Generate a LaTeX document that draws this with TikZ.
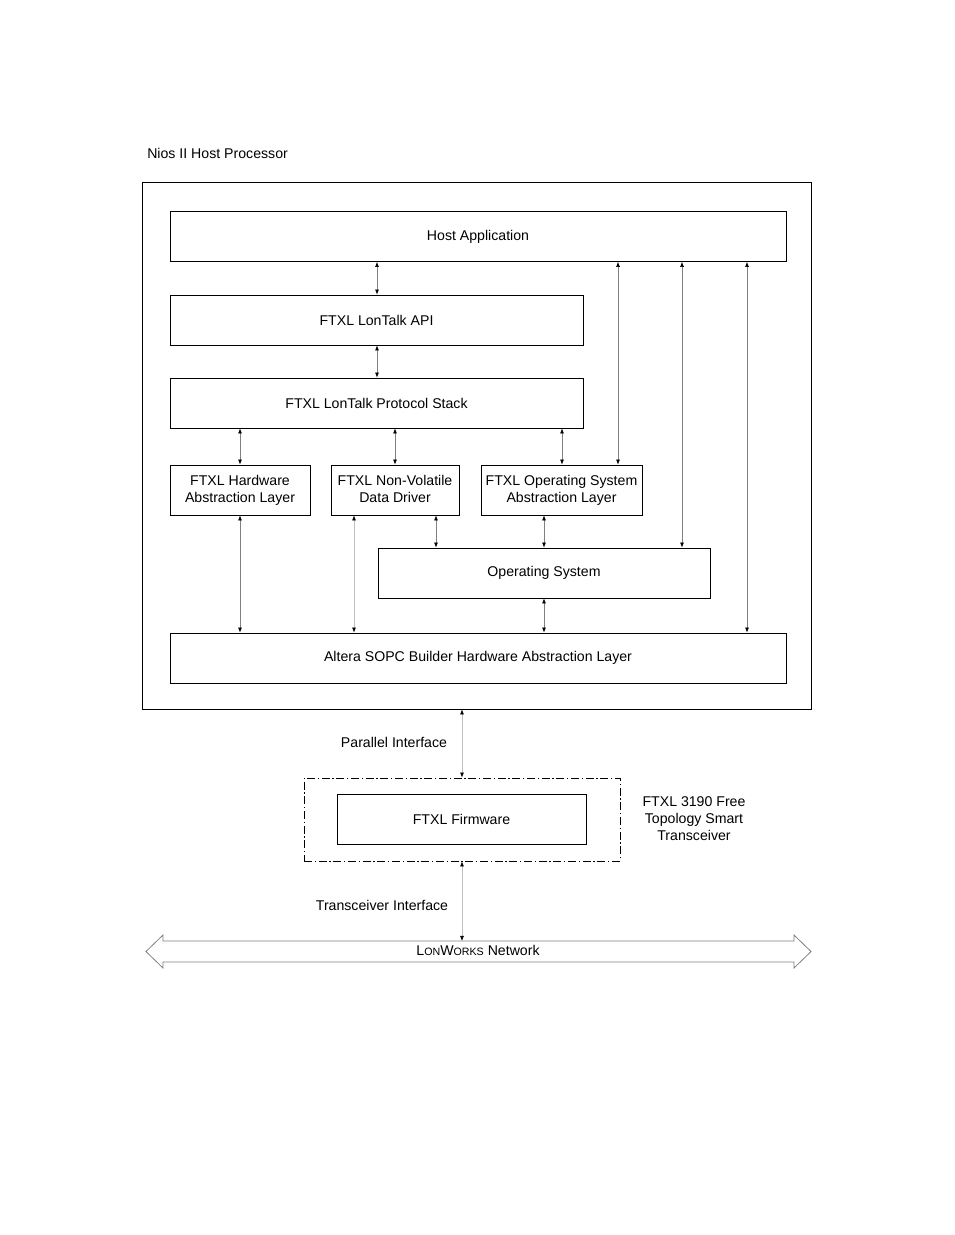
\documentclass[tikz,border=0pt]{standalone}
\usepackage{fontspec}
\setmainfont{Liberation Sans}
\usetikzlibrary{arrows.meta}

\tikzset{
  box/.style={draw, line width=0.6pt, align=center, inner sep=1pt, minimum height=37.5pt},
  link/.style={draw=gray, line width=0.5pt,
    {Latex[length=3.8pt,width=3pt,color=black]}-{Latex[length=3.8pt,width=3pt,color=black]}},
}

\begin{document}
\begin{tikzpicture}[x=0.75pt, y=-0.75pt, font=\fontsize{10.6}{12.75}\selectfont]
\useasboundingbox (0,0) rectangle (954,1235);
% host processor frame
\node[draw, line width=0.6pt, minimum width=501.75pt, minimum height=395.25pt] (host) at (476.5,445.5) {};
\node[anchor=west, inner sep=0] (hosttitle) at (147,153.5) {Nios II Host Processor};
% software layers
\node[box, minimum width=462pt] (app) at (478,236.5) {Host Application};
\node[box, minimum width=309.75pt] (api) at (376.5,320) {FTXL LonTalk API};
\node[box, minimum width=309.75pt] (stack) at (376.5,403) {FTXL LonTalk Protocol Stack};
\node[box, minimum width=105pt] (hal) at (240,490) {FTXL Hardware\\Abstraction Layer};
\node[box, minimum width=96pt] (nvd) at (395,490) {FTXL Non-Volatile\\Data Driver\vphantom{y}};
\node[box, minimum width=120.75pt] (osal) at (561.5,490) {FTXL Operating System\\Abstraction Layer};
\node[box, minimum width=249pt] (os) at (544,573) {Operating System};
\node[box, minimum width=462pt] (sopc) at (478,658) {Altera SOPC Builder Hardware Abstraction Layer};
% transceiver
\node[draw, line width=0.6pt, dash pattern=on 6pt off 2pt on 1pt off 2pt,
      minimum width=237pt, minimum height=62.25pt] (xcvr) at (462,819.5) {};
\node[box, minimum width=186.75pt] (fw) at (461.5,819) {FTXL Firmware};
\node[align=center, inner sep=0] (xcvrlabel) at (694,818.5) {FTXL 3190 Free\\Topology Smart\\Transceiver};
\node[inner sep=0] (parlabel) at (394,742.5) {Parallel Interface};
\node[inner sep=0] (trxlabel) at (382,905.5) {Transceiver Interface};
% network arrow
\draw[gray, line width=0.6pt] (146,951.5) -- (163,935) -- (163,941) -- (794,941) -- (794,935)
  -- (811,951.5) -- (794,968) -- (794,962) -- (163,962) -- (163,968) -- cycle;
\node[inner sep=0] (net) at (478,950.5) {L{\footnotesize ON}W{\footnotesize ORKS} Network};
\coordinate (netTop) at (462,941);
% link columns
\coordinate (c1) at (377,0);
\coordinate (c2) at (240,0);
\coordinate (c3) at (395,0);
\coordinate (c4) at (562,0);
\coordinate (c5) at (618,0);
\coordinate (c6) at (682,0);
\coordinate (c7) at (747,0);
\coordinate (c8) at (354,0);
\coordinate (c9) at (436,0);
\coordinate (c10) at (544,0);
\coordinate (c11) at (462,0);
% links
\draw[link] (app.south -| c1) -- (api.north -| c1);
\draw[link] (api.south -| c1) -- (stack.north -| c1);
\draw[link] (stack.south -| c2) -- (hal.north -| c2);
\draw[link] (stack.south -| c3) -- (nvd.north -| c3);
\draw[link] (stack.south -| c4) -- (osal.north -| c4);
\draw[link] (app.south -| c5) -- (osal.north -| c5);
\draw[link] (app.south -| c6) -- (os.north -| c6);
\draw[link] (app.south -| c7) -- (sopc.north -| c7);
\draw[link] (hal.south -| c2) -- (sopc.north -| c2);
\draw[link, draw=gray!50] (nvd.south -| c8) -- (sopc.north -| c8);
\draw[link] (nvd.south -| c9) -- (os.north -| c9);
\draw[link] (osal.south -| c10) -- (os.north -| c10);
\draw[link] (os.south -| c10) -- (sopc.north -| c10);
\draw[link, draw=gray!50] (host.south -| c11) -- (xcvr.north -| c11);
\draw[link, draw=gray!50] (xcvr.south -| c11) -- (netTop);
\end{tikzpicture}
\end{document}
